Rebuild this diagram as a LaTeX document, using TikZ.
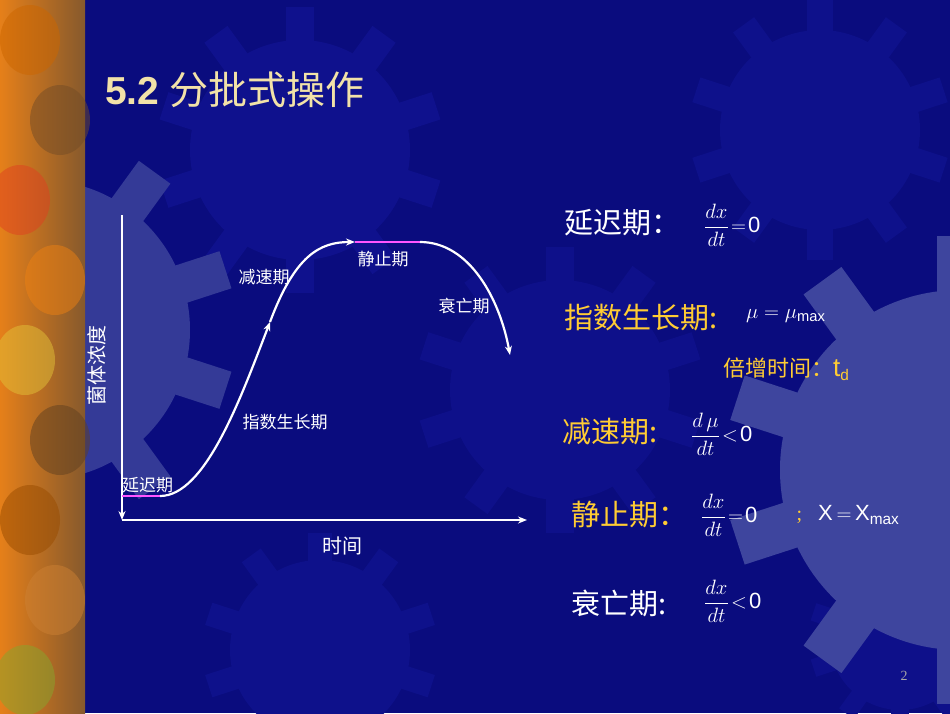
\documentclass[tikz,border=0pt]{standalone}
\usepackage{fontspec}
\usepackage{amsmath}
\setmainfont{Liberation Serif}
\setsansfont{Liberation Sans}
\newfontfamily\cjk{Noto Sans CJK SC}
\usetikzlibrary{arrows.meta,calc}
\definecolor{navy}{HTML}{0A0C7E}
\definecolor{gearA}{HTML}{1418A0}
\definecolor{gearB}{HTML}{5058A8}
\definecolor{ylw}{HTML}{FFCC33}
\definecolor{ttl}{HTML}{F2E2A8}
\definecolor{mag}{HTML}{FF55FF}
\newcommand{\mygear}[4]{%
  \fill[#4] (#1,#2) circle (#3);
  \foreach \a in {0,36,...,324}{
    \fill[#4,rotate around={\a:(#1,#2)}] ($(#1,#2)+(-0.13*#3,0)$) rectangle ($(#1,#2)+(0.13*#3,1.3*#3)$);}
}
\tikzset{lab/.style={text=white,font=\cjk\fontsize{17}{17}\selectfont,inner sep=1pt},
  big/.style={font=\cjk\fontsize{29}{29}\selectfont,inner sep=1pt},
  eq/.style={text=white,anchor=west,font=\fontsize{22}{22}\selectfont,inner sep=1pt},
  ax/.style={white,line width=2.2pt,-{Stealth[length=9pt,width=7pt]}},
  crv/.style={white,line width=2.2pt}}
\begin{document}
\begin{tikzpicture}[x=1pt,y=-1pt]
\useasboundingbox (0,0) rectangle (950,713);
\fill[navy] (0,0) rectangle (950,713);
\begin{scope}
\clip (85,0) rectangle (950,713);
\mygear{300}{150}{110}{gearA!45!navy}
\mygear{820}{130}{100}{gearA!40!navy}
\mygear{560}{390}{110}{gearA!35!navy}
\mygear{320}{650}{90}{gearA!40!navy}
\mygear{900}{640}{70}{gearA!35!navy}
\mygear{40}{330}{150}{gearB!60!navy}
\mygear{960}{470}{180}{gearB!75!navy}
\end{scope}
\shade[left color=orange!60!brown, right color=brown!70!black] (0,0) rectangle (85,713);
\foreach \x/\y/\c in {30/40/orange!80!black,60/120/brown!60!black,20/200/red!50!brown,55/280/orange!70!brown,25/360/yellow!50!brown,60/440/brown!50!black,30/520/orange!60!black,55/600/brown!80!orange,25/680/green!30!brown}{
  \fill[\c,opacity=0.5] (\x,\y) ellipse (30 and 35);}
\node[anchor=west,text=ttl,font=\fontsize{39}{39}\selectfont,inner sep=0] (title) at (105,90) {\textsf{\textbf{5.2}} {\cjk 分批式操作}};
% axes
\coordinate (o) at (122,520);
\coordinate (top) at (122,215);
\coordinate (xe) at (527,520);
\draw[ax] (top) -- (o);
\draw[ax] (o) -- (xe);
\node[lab,font=\cjk\fontsize{20}{20}\selectfont,rotate=90] (yl) at (97,365) {菌体浓度};
\node[lab,font=\cjk\fontsize{20}{20}\selectfont] (xl) at (342,546) {时间};
% curve
\coordinate (p0) at (122,496);
\coordinate (p1) at (160,496);
\coordinate (p2) at (270,322);
\coordinate (p3) at (355,242);
\coordinate (p4) at (420,242);
\coordinate (p5) at (510,355);
\draw[mag,line width=2.2pt] (p0) -- (p1);
\draw[mag,line width=2.2pt] (p3) -- (p4);
\draw[crv,-{Stealth[length=9pt,width=7pt]}] (p1) .. controls (205,496) and (240,400) .. (p2);
\draw[crv,-{Stealth[length=9pt,width=7pt]}] (p2) .. controls (295,255) and (320,242) .. (p3);
\draw[crv,-{Stealth[length=9pt,width=7pt]}] (p4) .. controls (470,242) and (500,300) .. (p5);
\node[lab,anchor=south west] (l1) at (121,494) {延迟期};
\node[lab] (l2) at (285,422) {指数生长期};
\node[lab] (l3) at (264,277) {减速期};
\node[lab] (l4) at (383,259) {静止期};
\node[lab] (l5) at (464,306) {衰亡期};
% right text
\node[big,text=white,anchor=west] (r1) at (563,223) {延迟期：};
\node[eq] (e1) at (703,225) {$\dfrac{dx}{dt}\!=\!\textsf{0}$};
\node[big,text=ylw,anchor=west] (r2) at (563,318) {指数生长期:};
\node[eq,font=\fontsize{21}{21}\selectfont] (e2) at (745,316) {$\mu=\mu_{\textsf{max}}$};
\node[text=ylw,anchor=west,font=\cjk\fontsize{22}{22}\selectfont,inner sep=1pt] (r3) at (722,369) {倍增时间：\textsf{\fontsize{26}{26}\selectfont t}$_{\textsf{d}}$};
\node[big,text=ylw,anchor=west] (r4) at (561,432) {减速期:};
\node[eq] (e4) at (690,434) {$\dfrac{d\,\mu}{dt}\!<\!\textsf{0}$};
\node[big,text=ylw,anchor=west] (r5) at (570,515) {静止期：};
\node[eq] (e5) at (700,515) {$\dfrac{dx}{dt}\!=\!\textsf{0}$};
\node[text=ylw,anchor=west,font=\fontsize{20}{20}\selectfont] (semi) at (793,517) {;};
\node[eq] (e6) at (817,515) {\textsf{X}\,$=$\,\textsf{X}$_{\textsf{max}}$};
\node[big,text=white,anchor=west] (r6) at (570,603) {衰亡期:};
\node[eq] (e7) at (703,601) {$\dfrac{dx}{dt}\!<\!\textsf{0}$};
\node[text=gray!70,font=\fontsize{14}{14}\selectfont] (pg) at (904,676) {2};
\end{tikzpicture}
\end{document}
